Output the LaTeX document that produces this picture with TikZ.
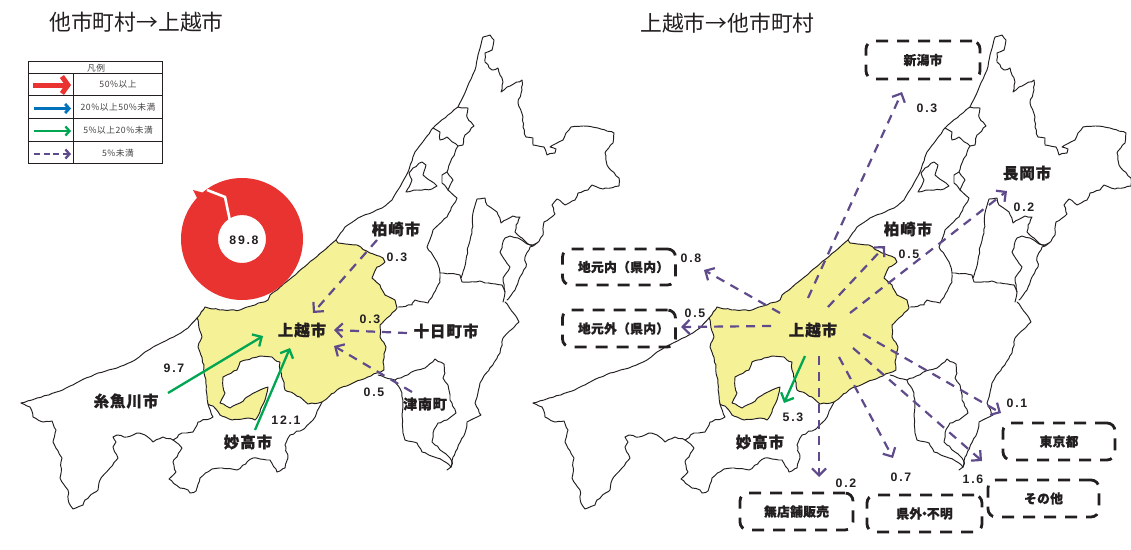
\documentclass[tikz,border=0pt]{standalone}
\usepackage{fontspec}
\usetikzlibrary{arrows.meta,decorations.pathmorphing}
\newfontfamily\jp{Noto Sans CJK JP}
\newfontfamily\jpcity[LetterSpace=6,BoldFeatures={FakeBold=0.8}]{Noto Sans CJK JP}
\newfontfamily\jpbox[LetterSpace=2,BoldFeatures={FakeBold=0.8}]{Noto Sans CJK JP}
\newfontfamily\jpleg[LetterSpace=6]{Noto Sans CJK JP}
\newfontfamily\numf[LetterSpace=14]{Liberation Sans}
\definecolor{ink}{HTML}{231F20}
\definecolor{joetsu}{HTML}{F5F197}
\definecolor{redc}{HTML}{E93331}
\definecolor{purp}{HTML}{5F4A8B}
\definecolor{greenc}{HTML}{00A651}
\definecolor{bluec}{HTML}{0072BC}
\tikzset{
  maplines/.style={draw=ink,line width=0.95pt,line join=round,line cap=round,decorate,decoration={random steps,segment length=3.5pt,amplitude=0.7pt}},
  coastlines/.style={draw=ink,line width=0.95pt,line join=round,line cap=round,decorate,decoration={random steps,segment length=4pt,amplitude=0.35pt}},
  cityname/.style={inner sep=0pt,text=ink,font=\jpcity\bfseries\fontsize{15.5}{16}\selectfont},
  numlabel/.style={inner sep=0pt,text=ink,font=\numf\bfseries\fontsize{12.3}{13}\selectfont},
  titlelabel/.style={inner sep=0pt,text=ink,anchor=west,font=\jp\fontsize{21.8}{22}\selectfont},
  destbox/.style={draw=ink,line width=2.8pt,rounded corners=8pt,dash pattern=on 12pt off 9pt,inner sep=0pt,text=ink,font=\jpbox\bfseries\fontsize{12.8}{13}\selectfont},
  legtext/.style={inner sep=0pt,text=ink!85,font=\jpleg\fontsize{8.7}{9}\selectfont},
  legline/.style={draw=ink,line width=1pt},
  weakflow/.style={draw=purp,line width=2.2pt,dash pattern=on 9pt off 7pt,-{Straight Barb[length=7pt,width=14pt,line width=2.2pt]}},
  greenflow/.style={draw=greenc,line width=2.3pt,-{Straight Barb[length=7pt,width=14pt,line width=2.3pt]}},
}
\newcommand{\joetsufill}{%
  \fill[joetsu] (336,240)--(338,243)--(357,245)--(370,253)--(383,258)--(385,262)--(377,267)--(372,278)--(380,285)--(385,295)--(395,300)--(397,308)--(387,318)--(380,325)--(380,337)--(386,347)--(383,362)--(384,370)--(377,373)--(353,383)--(337,390)--(322,402)--(308,404)--(300,397)--(285,390)--(283,380)--(280,370)--(280,362)--(275,360)--(272,357)--(260,356)--(252,358)--(240,362)--(237,370)--(223,377)--(223,387)--(225,393)--(220,403)--(230,408)--(240,403)--(247,397)--(260,390)--(268,387)--(265,400)--(260,412)--(255,420)--(248,418)--(232,420)--(220,415)--(213,406)--(208,404)--(205,377)--(204,365)--(198,347)--(202,337)--(197,318)--(205,307)--(220,310)--(240,310)--(255,305)--(268,300)--(270,295)--(277,290)--cycle;
}
\newcommand{\maplinesall}{%
  \pgfmathsetseed{7}%
  % west coast
  \draw[coastlines] (197,318)--(188,328)--(177,335)--(157,345)--(145,352)--(135,360)--(117,368)--(98,373)--(80,381)--(60,391)--(32,400)--(21,403);
  % south-west border
  \draw[maplines] (21,403)--(30,407)--(33,417)--(43,422)--(52,421)--(56,430)--(53,442)--(62,458)--(60,478)--(68,490)--(69,503)--(73,509)--(83,505)--(85,500)--(98,490)--(100,480)--(110,468)--(118,458)--(113,447)--(116,442)--(113,437)--(117,435)--(127,437)--(137,433)--(145,435)--(153,442)--(163,437)--(173,440)--(182,448)--(173,462)--(176,472)--(169,479)--(180,488)--(188,490)--(190,493)--(196,491)--(200,478)--(212,469)--(222,468)--(237,470)--(253,458)--(270,460)--(277,472)--(285,468)--(288,458)--(285,445)--(290,435)--(305,428)--(313,420)--(322,402);
  \draw[maplines] (208,404)--(213,417)--(198,422)--(193,432)--(182,433)--(173,440);
  % Joetsu outline
  \draw[maplines] (336,240)--(338,243)--(357,245)--(370,253)--(383,258)--(385,262)--(377,267)--(372,278)--(380,285)--(385,295)--(395,300)--(397,308)--(387,318)--(380,325)--(380,337)--(386,347)--(383,362)--(384,370)--(377,373)--(353,383)--(337,390)--(322,402)--(308,404)--(300,397)--(285,390)--(283,380)--(280,370)--(280,362)--(275,360)--(272,357)--(260,356)--(252,358)--(240,362)--(237,370)--(223,377)--(223,387)--(225,393)--(220,403)--(230,408)--(240,403)--(247,397)--(260,390)--(268,387)--(265,400)--(260,412)--(255,420)--(248,418)--(232,420)--(220,415)--(213,406)--(208,404)--(205,377)--(204,365)--(198,347)--(202,337)--(197,318)--(205,307)--(220,310)--(240,310)--(255,305)--(268,300)--(270,295)--(277,290);
  \draw[coastlines] (277,290)--(336,240);
  % coast going north
  \draw[coastlines] (336,240)--(345,227)--(358,218)--(382,208)--(392,200)--(402,183)--(408,172)--(415,152)--(422,143)--(433,128)--(448,115)--(458,107)--(463,97)--(475,70)--(478,55)--(483,37)--(490,35)--(494,40)--(492,50);
  % round the north-east
  \draw[maplines] (492,50)--(485,53)--(485,62)--(492,70)--(498,68)--(503,82)--(501,92)--(507,87)--(522,80)--(522,90)--(518,103)--(523,117)--(523,127)--(526,137)--(533,138)--(533,145)--(544,147)--(547,155)--(555,153)--(556,149)--(550,147)--(563,140)--(566,133)--(571,127)--(583,126)--(598,128)--(614,133)--(613,143)--(605,153)--(607,165)--(619,178)--(619,186)--(603,189)--(592,185)--(588,190)--(578,193)--(575,200)--(565,205)--(557,199)--(552,205)--(555,214)--(544,222)--(543,235)--(537,243)--(530,247)--(525,257)--(526,267)--(520,277)--(515,290)--(507,300);
  % east side going south
  \draw[maplines] (505,302)--(517,318)--(519,322)--(503,338)--(500,353)--(480,383)--(475,403)--(481,415)--(467,422)--(465,433)--(453,457)--(451,467)--(447,470);
  % Kashiwazaki / Nagaoka divide
  \draw[maplines] (458,107)--(468,108)--(467,117)--(474,126)--(465,135)--(463,145)--(458,146)--(447,137)--(440,140)--(440,132)--(433,128);
  \draw[maplines] (458,146)--(450,163)--(447,172)--(442,175)--(442,183)--(448,190)--(457,198)--(447,217)--(433,230)--(427,247)--(437,262)--(440,273)--(460,275)--(462,282)--(480,281)--(485,283)--(502,285)--(505,292);
  \draw[maplines] (447,172)--(453,180)--(448,190);
  % Kashiwazaki enclave
  \draw[maplines] (413,168)--(422,162)--(426,165)--(423,175)--(437,186)--(432,189)--(417,190)--(406,192)--(412,180)--(409,173)--(413,168);
  % Tokamachi north border to Joetsu
  \draw[maplines] (440,273)--(440,282)--(428,303)--(415,300)--(412,305)--(398,307);
  % Inner Nagaoka pocket
  \draw[maplines] (461,278)--(466,260)--(468,247)--(472,233)--(473,213)--(477,199)--(485,198)--(487,205)--(497,212)--(501,223)--(513,216)--(520,217)--(516,225)--(515,232)--(522,238)--(530,245)--(537,243);
  \draw[maplines] (533,246)--(527,244)--(518,238)--(510,236)--(505,238)--(500,252)--(510,267)--(503,278)--(505,292)--(503,302);
  % Tsunan
  \draw[maplines] (378,375)--(395,380)--(417,370)--(425,368)--(435,359)--(444,364)--(445,373)--(443,378)--(448,385)--(450,400)--(456,413)--(447,420)--(438,423)--(433,433)--(432,442)--(443,452)--(450,458)--(452,463)--(451,467);
  \draw[maplines] (395,380)--(402,393)--(403,433)--(405,440)--(417,443)--(422,452)--(437,458)--(447,463)--(451,467);
}
\begin{document}
\begin{tikzpicture}[x=1pt,y=-1pt]
\useasboundingbox (0,0) rectangle (1131,549);

% maps
\joetsufill
\maplinesall
\begin{scope}[xshift=512pt]
\joetsufill
\maplinesall
\end{scope}

% titles
\node[titlelabel] (titleL) at (49,22) {他市町村→上越市};
\node[titlelabel] (titleR) at (640,23) {上越市→他市町村};

% legend
\draw[legline] (28,61) rectangle (162,163);
\draw[legline] (28,73)--(162,73) (28,95)--(162,95) (28,118)--(162,118) (28,141)--(162,141) (73,73)--(73,163);
\node[legtext] (legT) at (96,68) {凡例};
\node[legtext] (leg1) at (118,84.5) {50\%以上};
\node[legtext] (leg2) at (118,107.5) {20\%以上50\%未満};
\node[legtext] (leg3) at (118,130) {5\%以上20\%未満};
\node[legtext] (leg4) at (118,153) {5\%未満};
\coordinate (l1a) at (33,85); \coordinate (l1b) at (71,85);
\coordinate (l2a) at (34,108.5); \coordinate (l2b) at (71,108.5);
\coordinate (l3a) at (34,131); \coordinate (l3b) at (71,131);
\coordinate (l4a) at (34,154); \coordinate (l4b) at (71,154);
\draw[redc,line width=5pt,-{Straight Barb[length=6pt,width=17pt,line width=5pt]}] (l1a)--(l1b);
\draw[bluec,line width=2.8pt,-{Straight Barb[length=4pt,width=9pt,line width=2.8pt]}] (l2a)--(l2b);
\draw[greenc,line width=2.3pt,-{Straight Barb[length=4pt,width=9pt,line width=2.3pt]}] (l3a)--(l3b);
\draw[purp,line width=2.3pt,dash pattern=on 6pt off 3.5pt,-{Straight Barb[length=4pt,width=9pt,line width=2.3pt]}] (l4a)--(l4b);

% donut
\fill[redc,even odd rule] (242,239) circle (61) (242,239) circle (24);
\fill[redc] (193,190)--(208,194)--(198,200)--cycle;
\draw[white,line width=2.6pt,line join=miter] (207,190)--(225,197)--(231.5,228);
\node[numlabel] (pct) at (244,240) {89.8};

% left map labels
\node[cityname] (joL) at (302,330) {上越市};
\node[cityname] (kaL) at (396,229) {柏崎市};
\node[cityname] (toL) at (446,331) {十日町市};
\node[cityname,font=\jpcity\bfseries\fontsize{14}{15}\selectfont] (tsL) at (425,404) {津南町};
\node[cityname] (itL) at (126,401) {糸魚川市};
\node[cityname] (myL) at (248,442) {妙高市};
\node[numlabel] (n1) at (174,368) {9.7};
\node[numlabel] (n2) at (286,420) {12.1};
\node[numlabel] (n3) at (397,257) {0.3};
\node[numlabel] (n4) at (370,319) {0.3};
\node[numlabel] (n5) at (374,392) {0.5};

% left map flows
\coordinate (aIt) at (168,393); \coordinate (bIt) at (263,336);
\coordinate (aMy) at (255,430); \coordinate (bMy) at (290,348);
\coordinate (aKa) at (377,240); \coordinate (bKa) at (313,313);
\coordinate (aTo) at (407,333); \coordinate (bTo) at (334,330);
\coordinate (aTs) at (412,392); \coordinate (bTs) at (334,346);
\draw[greenflow] (aIt)--(bIt);
\draw[greenflow] (aMy)--(bMy);
\draw[weakflow] (aKa)--(bKa);
\draw[weakflow] (aTo)--(bTo);
\draw[weakflow] (aTs)--(bTs);

% right map labels
\node[cityname] (joR) at (813,330) {上越市};
\node[cityname] (kaR) at (908,229) {柏崎市};
\node[cityname] (naR) at (1027,173) {長岡市};
\node[cityname] (myR) at (760,442) {妙高市};
\node[numlabel] (r1) at (927,108) {0.3};
\node[numlabel] (r2) at (1024,207) {0.2};
\node[numlabel] (r3) at (909,254) {0.5};
\node[numlabel] (r4) at (691,258) {0.8};
\node[numlabel] (r5) at (695,313) {0.5};
\node[numlabel] (r6) at (793,417) {5.3};
\node[numlabel] (r7) at (1017,403) {0.1};
\node[numlabel] (r8) at (846,483) {0.2};
\node[numlabel] (r9) at (901,477) {0.7};
\node[numlabel] (r10) at (973,479) {1.6};

% destination boxes
\node[destbox,minimum width=114pt,minimum height=38pt] (bNi) at (923,60) {新潟市};
\node[destbox,minimum width=113pt,minimum height=36pt] (bNai) at (619,267) {\kern9pt 地元内（県内）};
\node[destbox,minimum width=113pt,minimum height=37pt] (bGai) at (619,328.5) {\kern9pt 地元外（県内）};
\node[destbox,minimum width=113pt,minimum height=37pt] (bMu) at (796.5,511.5) {無店舗販売};
\node[destbox,minimum width=115pt,minimum height=37pt] (bKe) at (924.5,513.5) {県外\kern-4pt・\kern-4pt不明};
\node[destbox,minimum width=111pt,minimum height=37pt] (bSo) at (1043.5,498.5) {その他};
\node[destbox,minimum width=112pt,minimum height=37pt] (bTk) at (1059,441.5) {東京都};

% right map flows
\coordinate (s1) at (808,298); \coordinate (t1) at (902,92);
\coordinate (s2) at (828,307); \coordinate (t2) at (885,246);
\coordinate (s3) at (850,313); \coordinate (t3) at (1007,191);
\coordinate (s4) at (780,313); \coordinate (t4) at (704,270);
\coordinate (s5) at (771,326); \coordinate (t5) at (681,327);
\coordinate (s6) at (805,356); \coordinate (t6) at (784,403);
\coordinate (s7) at (819,356); \coordinate (t7) at (819,477);
\coordinate (s8) at (839,357); \coordinate (t8) at (893,458);
\coordinate (s9) at (853,348); \coordinate (t9) at (982,461);
\coordinate (s10) at (863,334); \coordinate (t10) at (1001,413);
\draw[weakflow] (s1)--(t1);
\draw[weakflow] (s2)--(t2);
\draw[weakflow] (s3)--(t3);
\draw[weakflow] (s4)--(t4);
\draw[weakflow] (s5)--(t5);
\draw[greenflow] (s6)--(t6);
\draw[weakflow] (s7)--(t7);
\draw[weakflow] (s8)--(t8);
\draw[weakflow] (s9)--(t9);
\draw[weakflow] (s10)--(t10);
\end{tikzpicture}
\end{document}
